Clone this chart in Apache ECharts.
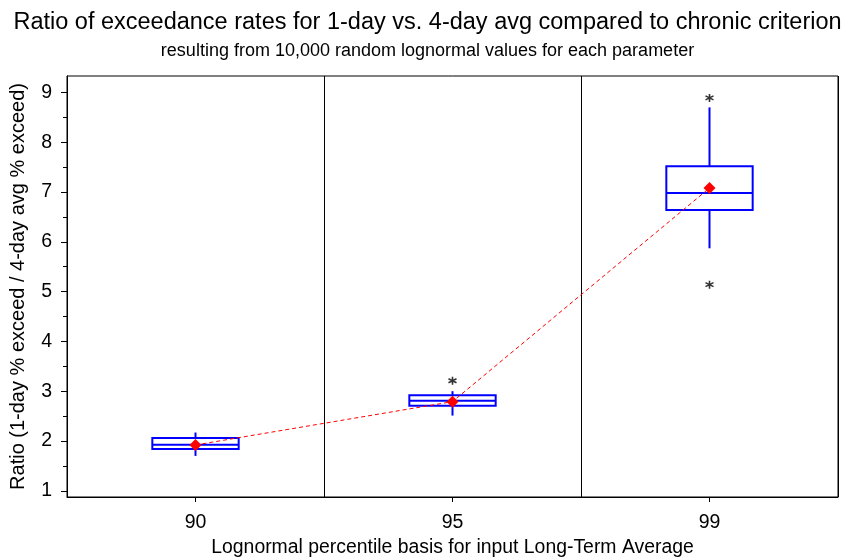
<!DOCTYPE html>
<html>
<head>
<meta charset="utf-8">
<script src="https://cdn.jsdelivr.net/npm/echarts@6/dist/echarts.min.js"></script>
<style>html,body{margin:0;padding:0;background:#fff;}#c{width:855px;height:558px;}</style>
</head>
<body>
<div id="c"></div>
<script>
const categories = ['90', '95', '99'];
const whiskerLow = [1.70, 2.51, 5.87];
const q1 = [1.84, 2.71, 6.64];
const median = [1.925, 2.81, 6.98];
const q3 = [2.06, 2.92, 7.52];
const whiskerHigh = [2.17, 3.00, 8.70];
const means = [1.92, 2.79, 7.08];
const outlierCats = ['95', '99', '99'];
const outlierVals = [3.21, 8.89, 5.14];
const yMajorTicks = [1, 2, 3, 4, 5, 6, 7, 8, 9];
const yMinorTicks = [1.5, 2.5, 3.5, 4.5, 5.5, 6.5, 7.5, 8.5];

const FONT = 'Liberation Sans, Arial, sans-serif';
const boxData = categories.map((c, i) => [i, whiskerLow[i], q1[i], median[i], q3[i], whiskerHigh[i]]);
const meanData = categories.map((c, i) => [c, means[i]]);
const outlierData = outlierCats.map((c, i) => [c, outlierVals[i]]);

const chart = echarts.init(document.getElementById('c'), null, {renderer: 'canvas'});
chart.setOption({
  animation: false,
  backgroundColor: '#fff',
  title: {
    text: 'Ratio of exceedance rates for 1-day vs. 4-day avg compared to chronic criterion',
    subtext: 'resulting from 10,000 random lognormal values for each parameter',
    left: 'center', top: 11, itemGap: 7, padding: 0,
    textStyle: {fontFamily: FONT, fontSize: 23.5, fontWeight: 'normal', color: '#000'},
    subtextStyle: {fontFamily: FONT, fontSize: 18, color: '#000'}
  },
  grid: {left: 67, right: 17, top: 76, bottom: 61, outerBoundsMode: 'none', containLabel: false, show: true, borderColor: '#000', borderWidth: 1, backgroundColor: 'transparent'},
  xAxis: {
    type: 'category', data: categories, boundaryGap: true,
    name: 'Lognormal percentile basis for input Long-Term Average',
    nameLocation: 'middle', nameGap: 41,
    nameTextStyle: {fontFamily: FONT, fontSize: 19.4, color: '#000'},
    axisLine: {show: true, lineStyle: {color: '#000', width: 1}},
    axisTick: {show: true, alignWithLabel: true, length: 5, lineStyle: {color: '#000'}},
    axisLabel: {fontFamily: FONT, fontSize: 19.5, color: '#000', margin: 16},
    splitLine: {show: true, lineStyle: {color: '#000', width: 1}}
  },
  yAxis: [{
    type: 'value', min: 0.875, max: 9.33,
    name: 'Ratio (1-day % exceed / 4-day avg % exceed)',
    nameLocation: 'middle', nameGap: 39,
    nameTextStyle: {fontFamily: FONT, fontSize: 20, color: '#000'},
    axisLine: {show: true, lineStyle: {color: '#000'}},
    axisTick: {show: true, length: 6, lineStyle: {color: '#000'}, customValues: yMajorTicks},
    axisLabel: {fontFamily: FONT, fontSize: 19.5, color: '#000', margin: 15, customValues: yMajorTicks},
    splitLine: {show: false}
  }, {
    type: 'value', min: 0.875, max: 9.33, position: 'left',
    axisLine: {show: false},
    axisTick: {show: true, length: 4, lineStyle: {color: '#000'}, customValues: yMinorTicks},
    axisLabel: {show: false},
    splitLine: {show: false}
  }],
  series: [{
    type: 'custom',
    data: boxData,
    encode: {x: 0, y: [1, 2, 3, 4, 5]},
    z: 2,
    renderItem: function (params, api) {
      const i = api.value(0);
      const lo = api.coord([i, api.value(1)]);
      const a = api.coord([i, api.value(2)]);
      const m = api.coord([i, api.value(3)]);
      const b = api.coord([i, api.value(4)]);
      const hi = api.coord([i, api.value(5)]);
      const cx = lo[0];
      const w = api.size([1, 0])[0] * 0.336;
      const st = {stroke: '#0000ff', lineWidth: 2, fill: null};
      return {type: 'group', children: [
        {type: 'line', shape: {x1: cx, y1: lo[1], x2: cx, y2: a[1]}, style: st},
        {type: 'line', shape: {x1: cx, y1: b[1], x2: cx, y2: hi[1]}, style: st},
        {type: 'rect', shape: {x: cx - w / 2, y: b[1], width: w, height: a[1] - b[1]}, style: {stroke: '#0000ff', lineWidth: 2, fill: '#fff'}},
        {type: 'line', shape: {x1: cx - w / 2, y1: m[1], x2: cx + w / 2, y2: m[1]}, style: st}
      ]};
    }
  }, {
    type: 'line',
    data: meanData,
    z: 5,
    symbol: 'diamond', symbolSize: 12,
    itemStyle: {color: '#ff0000'},
    lineStyle: {color: '#ff0000', width: 1, type: [4, 3]}
  }, {
    type: 'scatter',
    data: outlierData,
    z: 4,
    symbol: 'path://M5 0 L5 10 M0.7 2.5 L9.3 7.5 M0.7 7.5 L9.3 2.5',
    symbolSize: 8,
    itemStyle: {color: 'rgba(0,0,0,0)', borderColor: '#000', borderWidth: 1.6}
  }]
});
</script>
</body>
</html>
